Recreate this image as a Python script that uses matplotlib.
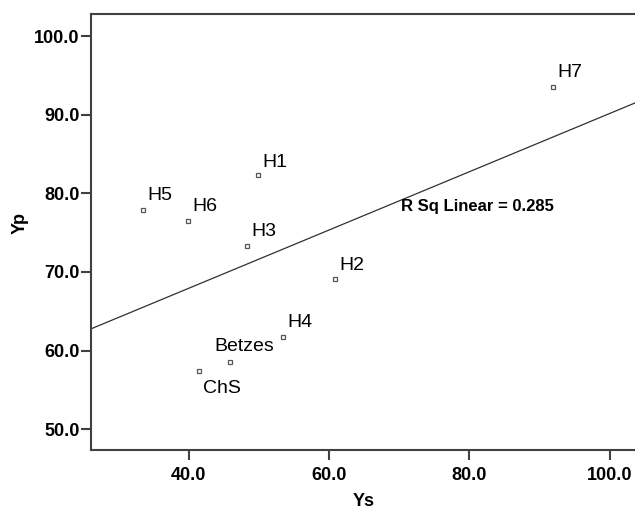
import numpy as np
import matplotlib
matplotlib.use("Agg")
import matplotlib.pyplot as plt

# Data
labels = ["H1", "H2", "H3", "H4", "H5", "H6", "H7", "Betzes", "ChS"]
ys = [49.8, 60.9, 48.3, 53.4, 33.4, 39.9, 91.9, 45.8, 41.5]
yp = [82.3, 69.1, 73.3, 61.7, 77.9, 76.5, 93.5, 58.5, 57.4]
# label offsets in pixels (dx, dy) relative to each point
label_offsets_px = {
    "H1": (4.4, 8.6), "H2": (4.3, 9.3), "H3": (4.7, 9.6), "H4": (4.0, 10.4),
    "H5": (4.3, 9.3), "H6": (4.6, 9.6), "H7": (4.4, 9.7),
    "Betzes": (-15.0, 11.0), "ChS": (3.7, -21.6),
}
xticks = [40.0, 60.0, 80.0, 100.0]
yticks = [50.0, 60.0, 70.0, 80.0, 90.0, 100.0]
rsq_text = "R Sq Linear = 0.285"

plt.rcParams['font.family'] = ['Liberation Sans', 'DejaVu Sans']

fig = plt.figure(figsize=(6.35, 5.12), dpi=100)
W, H = 635, 512
ax = fig.add_axes([90.7 / W, 62 / H, 1.0 - 90.7 / W, (450 - 14) / H])
xlim = (26.0, 103.6)
ylim = (47.35, 102.8)
ax.set_xlim(*xlim)
ax.set_ylim(*ylim)

spine_col = "#404040"
for s in ["left", "bottom", "top"]:
    ax.spines[s].set_color(spine_col)
    ax.spines[s].set_linewidth(1.5)
ax.spines["right"].set_visible(False)

# fit line
coef = np.polyfit(ys, yp, 1)
xx = np.array(xlim)
ax.plot(xx, np.polyval(coef, xx), color="#303030", lw=0.9, zorder=2)

ax.plot(ys, yp, linestyle="none", marker="s", markersize=3.2,
        markerfacecolor="white", markeredgecolor="#555555",
        markeredgewidth=0.9, zorder=3)

for lab, x, y in zip(labels, ys, yp):
    dx, dy = label_offsets_px[lab]
    ax.annotate(lab, (x, y), xytext=(dx * 0.72, dy * 0.72),
                textcoords="offset points", ha="left", va="baseline",
                fontsize=14, color="black")

fig.text(401 / W, 1 - 211 / H, rsq_text, fontsize=12, fontweight="bold",
         ha="left", va="baseline",
         family=['Liberation Sans Narrow', 'Liberation Sans', 'DejaVu Sans'])

ax.set_xticks(xticks)
ax.set_yticks(yticks)
ax.set_xticklabels([f"{t:.1f}" for t in xticks])
ax.set_yticklabels([f"{t:.1f}" for t in yticks])
ax.tick_params(axis="both", direction="out", length=7, width=1.5,
               color=spine_col, labelsize=13)
ax.tick_params(axis="y", pad=1)
ax.tick_params(axis="x", pad=5)
for t in ax.get_xticklabels() + ax.get_yticklabels():
    t.set_fontweight("bold")

fig.text(20 / W, 1 - 223 / H, "Yp", rotation=90, ha="center", va="center",
         fontsize=13, fontweight="bold")
fig.text(363.5 / W, 1 - 506 / H, "Ys", ha="center", va="baseline",
         fontsize=13, fontweight="bold")

fig.savefig("out.png", dpi=100)
